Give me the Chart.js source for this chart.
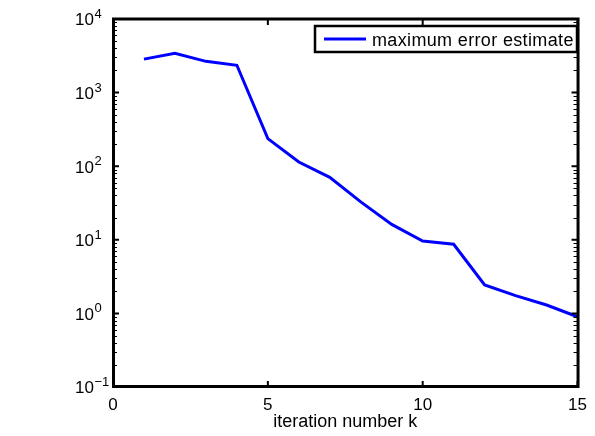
<!DOCTYPE html>
<html>
<head>
<meta charset="utf-8">
<script src="https://cdn.jsdelivr.net/npm/chart.js@4.4.1/dist/chart.umd.min.js"></script>
<style>
  html, body { margin: 0; padding: 0; background: #fff; }
  #c { display: block; }
</style>
</head>
<body>
<canvas id="c" width="595" height="436"></canvas>
<script>
// ---- data ----
const iterations = [1, 2, 3, 4, 5, 6, 7, 8, 9, 10, 11, 12, 13, 14, 15];
const maxErrorEstimate = [2850, 3420, 2660, 2350, 237, 114, 70.6, 32.7, 16.2, 9.6, 8.7, 2.43, 1.74, 1.30, 0.90];
const xTicks = [0, 5, 10, 15];
const yExponents = [-1, 0, 1, 2, 3, 4];
const seriesLabel = 'maximum error estimate';
const xTitle = 'iteration number k';

const FONT = '"Liberation Sans", Arial, Helvetica, sans-serif';
const BLUE = '#0000ff';

const framePlugin = {
  id: 'frame',
  afterDraw(chart) {
    const ctx = chart.ctx;
    const a = chart.chartArea;
    const xs = chart.scales.x, ys = chart.scales.y;
    ctx.save();
    ctx.strokeStyle = '#000';
    // minor log ticks
    ctx.lineWidth = 1;
    ctx.beginPath();
    for (let e = yExponents[0]; e < yExponents[yExponents.length - 1]; e++) {
      for (let m = 2; m <= 9; m++) {
        const py = Math.round(ys.getPixelForValue(m * Math.pow(10, e))) + 0.5;
        ctx.moveTo(a.left, py); ctx.lineTo(a.left + 4, py);
        ctx.moveTo(a.right, py); ctx.lineTo(a.right - 4, py);
      }
    }
    ctx.stroke();
    // major ticks
    ctx.lineWidth = 2;
    ctx.beginPath();
    yExponents.forEach(e => {
      const py = ys.getPixelForValue(Math.pow(10, e));
      ctx.moveTo(a.left, py); ctx.lineTo(a.left + 6, py);
      ctx.moveTo(a.right, py); ctx.lineTo(a.right - 6, py);
    });
    xTicks.forEach(v => {
      const px = xs.getPixelForValue(v);
      ctx.moveTo(px, a.bottom); ctx.lineTo(px, a.bottom - 6);
      ctx.moveTo(px, a.top); ctx.lineTo(px, a.top + 6);
    });
    ctx.stroke();
    // box
    ctx.lineWidth = 3;
    ctx.strokeRect(a.left + 0.5, a.top, a.right - a.left, a.bottom - a.top - 0.5);

    // y tick labels with superscript exponents
    ctx.fillStyle = '#000';
    yExponents.forEach(e => {
      const py = ys.getPixelForValue(Math.pow(10, e));
      ctx.font = '17px ' + FONT;
      ctx.textAlign = 'right';
      ctx.textBaseline = 'alphabetic';
      ctx.fillText('10', a.left - 19, py + 6.3);
      ctx.font = '13px ' + FONT;
      ctx.textAlign = 'left';
      ctx.fillText(String(e).replace('-', '\u2212'), a.left - 18.5, py - 1);
    });

    // legend
    const ds = chart.data.datasets[0];
    const lx = 315, ly = 26, lw = 262, lh = 26;
    ctx.fillStyle = '#fff';
    ctx.fillRect(lx, ly, lw, lh);
    ctx.lineWidth = 2.5;
    ctx.strokeStyle = '#000';
    ctx.strokeRect(lx, ly, lw, lh);
    ctx.strokeStyle = ds.borderColor;
    ctx.lineWidth = ds.borderWidth;
    ctx.beginPath();
    ctx.moveTo(lx + 9, ly + 13); ctx.lineTo(lx + 51, ly + 13);
    ctx.stroke();
    ctx.fillStyle = '#000';
    ctx.font = '18px ' + FONT;
    ctx.textAlign = 'left';
    ctx.textBaseline = 'alphabetic';
    if ('letterSpacing' in ctx) ctx.letterSpacing = '0.35px';
    ctx.fillText(ds.label, lx + 57, ly + 19.5);
    if ('letterSpacing' in ctx) ctx.letterSpacing = '0px';
    ctx.restore();
  }
};

new Chart(document.getElementById('c'), {
  type: 'line',
  data: {
    datasets: [{
      label: seriesLabel,
      data: iterations.map((k, i) => ({ x: k, y: maxErrorEstimate[i] })),
      borderColor: BLUE,
      borderWidth: 3,
      pointRadius: 0,
      tension: 0,
      fill: false
    }]
  },
  options: {
    animation: false,
    responsive: false,
    devicePixelRatio: 1,
    layout: { padding: { left: 0, right: 13, top: 19, bottom: 0 } },
    plugins: { legend: { display: false }, tooltip: { enabled: false } },
    scales: {
      x: {
        type: 'linear', min: 0, max: 15,
        afterBuildTicks(s) { s.ticks = xTicks.map(v => ({ value: v })); },
        ticks: { font: { family: FONT, size: 17 }, color: '#000', padding: 8, maxRotation: 0, autoSkip: false },
        grid: { display: false, drawTicks: false },
        border: { display: false },
        title: { display: true, text: xTitle, color: '#000', font: { family: FONT, size: 18 }, padding: { top: 0, bottom: 3 } },
        afterFit(s) { s.height = 49; }
      },
      y: {
        type: 'logarithmic', min: 0.1, max: 10000,
        ticks: { display: false },
        grid: { display: false, drawTicks: false },
        border: { display: false },
        afterFit(s) { s.width = 113; }
      }
    }
  },
  plugins: [framePlugin]
});
</script>
</body>
</html>
